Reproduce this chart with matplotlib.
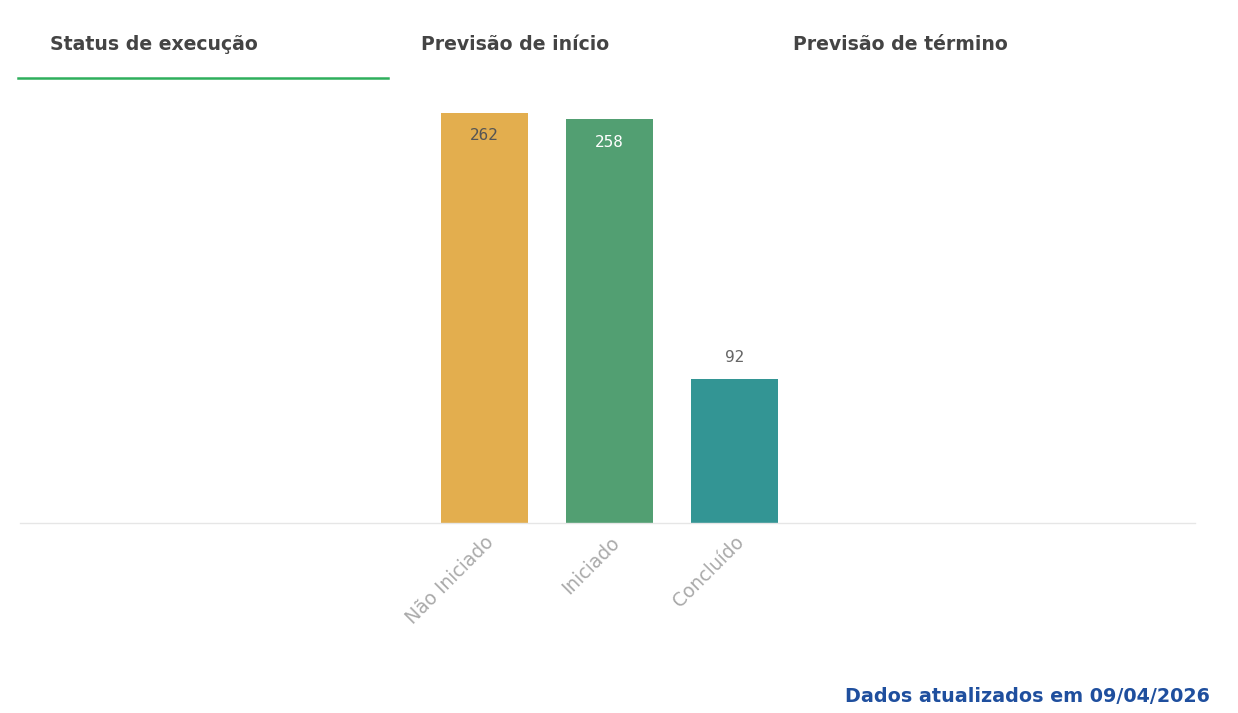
import matplotlib
matplotlib.use("Agg")
import matplotlib.pyplot as plt
from matplotlib.lines import Line2D

categories = ["Não Iniciado", "Iniciado", "Concluído"]
values = [262, 258, 92]
colors = ["#E3AE4E", "#529F72", "#339594"]
label_colors = ["#555555", "#FFFFFF", "#666666"]
label_inside = [True, True, False]
tabs = ["Status de execução", "Previsão de início", "Previsão de término"]
footer = "Dados atualizados em 09/04/2026"

W, H = 1238, 713
fig = plt.figure(figsize=(W / 100, H / 100), dpi=100)
fig.patch.set_facecolor("white")

def fx(px):
    return px / W

def fy(py):
    return 1 - py / H

ax = fig.add_axes([fx(20), fy(523), fx(1195) - fx(20), fy(113) - fy(523)])
x = list(range(len(categories)))
ax.bar(x, values, width=0.696, color=colors, zorder=2)
ax.set_xlim(-3.716, 5.684)
ax.set_ylim(0, 262)
for s in ["top", "right", "left"]:
    ax.spines[s].set_visible(False)
ax.spines["bottom"].set_color("#E6E6E6")
ax.spines["bottom"].set_linewidth(1)
ax.set_yticks([])
ax.set_xticks(x)
ax.set_xticklabels(categories, rotation=45, ha="right", rotation_mode="anchor",
                   color="#AAAAAA", fontsize=13.5)
ax.tick_params(axis="x", length=0, pad=7)
ax.patch.set_alpha(0)

for xi, v, c, inside in zip(x, values, label_colors, label_inside):
    if inside:
        ax.annotate(str(v), (xi, v), xytext=(0, -11), textcoords="offset points",
                    ha="center", va="top", color=c, fontsize=11.5,
                    family="DejaVu Sans Mono")
    else:
        ax.annotate(str(v), (xi, v), xytext=(0, 10), textcoords="offset points",
                    ha="center", va="bottom", color=c, fontsize=11.5,
                    family="DejaVu Sans Mono")

tab_x = [50, 421, 793]
for t, tx in zip(tabs, tab_x):
    fig.text(fx(tx), fy(45), t, ha="left", va="center", fontsize=13.6,
             fontweight="bold", color="#444444", family="DejaVu Sans")

fig.add_artist(Line2D([fx(18), fx(388)], [fy(78), fy(78)], color="#2EAF5C",
                      linewidth=1.8, transform=fig.transFigure))

fig.text(fx(1210), fy(697), footer, ha="right", va="center", fontsize=13.8,
         fontweight="bold", color="#1F4F9E")

fig.savefig("out.png", dpi=100, facecolor="white")
